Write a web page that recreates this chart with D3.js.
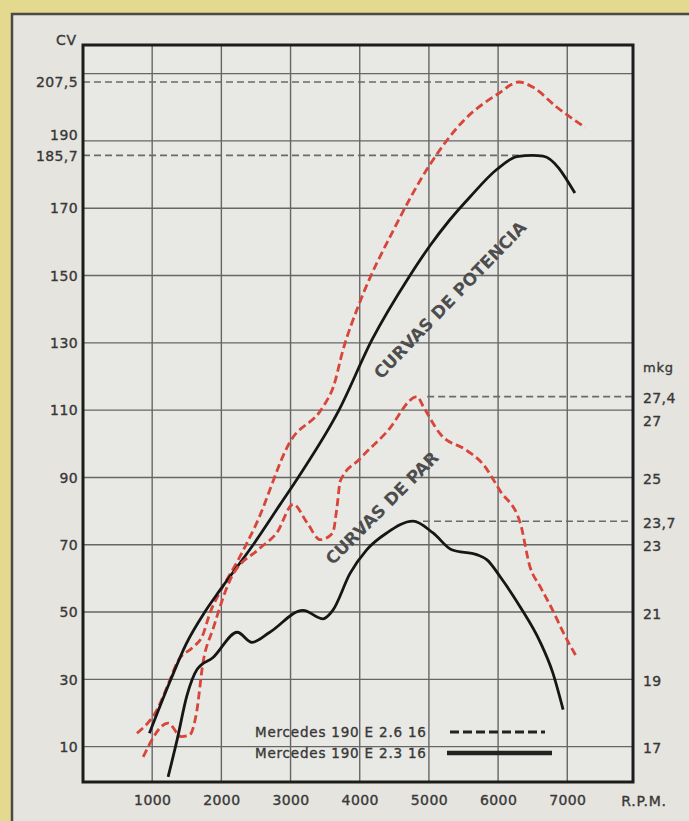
<!DOCTYPE html>
<html><head><meta charset="utf-8">
<script src="https://cdn.jsdelivr.net/npm/d3@7"></script>
<style>
html,body{margin:0;padding:0;background:#e3d98f;}
svg{display:block}
</style></head><body>
<svg id="c" width="689" height="821"></svg>
<script>
// ---------- DATA ----------
const rpmTicks = [1000, 2000, 3000, 4000, 5000, 6000, 7000];
const cvTicks = [10, 30, 50, 70, 90, 110, 130, 150, 170, 190];
const cvGrid = [10, 30, 50, 70, 90, 110, 130, 150, 170, 190, 210];
const cvRefValues = [207.5, 185.7];
const cvRefLabels = ["207,5", "185,7"];
const mkgTicks = [17, 19, 21, 23, 25, 27];
const mkgRefValues = [27.4, 23.7];
const mkgRefLabels = ["27,4", "23,7"];
const seriesNames = ["Mercedes 190 E 2.6 16", "Mercedes 190 E 2.3 16"];
const curveLabels = ["CURVAS DE POTENCIA", "CURVAS DE PAR"];

// Power (CV) - 2.6 16
const power26Rpm = [780, 1070, 1260, 1360, 1590, 1720, 1840, 1980, 2230, 2500, 2990, 3470, 3620, 3760, 4000, 4500, 5000, 5500, 6000, 6300, 6500, 6850, 7260];
const power26Cv  = [14, 21, 30, 35, 39.6, 42.6, 50, 56, 65, 76, 100.5, 111, 117, 128, 142, 164, 182.5, 196, 204, 207.5, 206, 200, 194];
// Power (CV) - 2.3 16
const power23Rpm = [960, 1260, 1490, 1760, 1980, 2460, 2850, 3110, 3700, 4180, 4710, 5020, 5300, 5600, 5980, 6270, 6500, 6650, 7110];
const power23Cv  = [14, 29.5, 40.5, 50, 56.5, 70, 82, 90, 110, 131, 149.5, 159, 166.5, 173.5, 181.5, 185.3, 185.7, 185.5, 174.5];
// Torque (mkg) - 2.6 16
const torque26Rpm = [870, 1230, 1420, 1540, 1640, 1735, 1880, 2125, 2560, 2800, 3040, 3240, 3430, 3610, 3670, 3720, 4000, 4390, 4830, 4920, 5160, 5550, 5780, 6030, 6320, 6460, 6610, 6790, 6940, 7140];
const torque26Mkg = [16.7, 17.7, 17.3, 17.35, 18.0, 19.5, 20.5, 21.95, 22.9, 23.35, 24.2, 23.65, 23.15, 23.35, 24.1, 24.9, 25.55, 26.35, 27.4, 27.1, 26.3, 25.8, 25.4, 24.6, 23.65, 22.35, 21.75, 21.05, 20.4, 19.65];
// Torque (mkg) - 2.3 16
const torque23Rpm = [1230, 1360, 1500, 1650, 1880, 2230, 2440, 2700, 3180, 3470, 3610, 3860, 4100, 4390, 4770, 5060, 5330, 5700, 5840, 6030, 6320, 6610, 6790, 6940];
const torque23Mkg = [16.1, 17.2, 18.5, 19.3, 19.65, 20.4, 20.1, 20.4, 21.05, 20.8, 21.05, 22.15, 22.85, 23.35, 23.7, 23.35, 22.85, 22.7, 22.55, 22.05, 21.15, 20.1, 19.2, 18.1];

// ---------- LAYOUT ----------
const L = {
  xDomain: [0, 7950], xRange: [83, 633],
  yDomain: [-0.5, 218.5], yRange: [782, 45],
  panel: {x: 12, y: 14},
  font: "'DejaVu Sans', sans-serif",
  ink: "#383838",
  red: "#d8453a",
  black: "#161616",
  grid: "#666",
  leftShift: {190: -6},
  rightShift: {27: 9},
  legendX: 255, legendY: [732, 753], legendLine: [[450, 545], [447, 552]],
  potencia: {x: 450, y: 300, a: -46},
  par: {x: 382, y: 508, a: -45}
};
const cvToMkg = v => (v + 160) / 10;

const svg = d3.select("#c");
const x = d3.scaleLinear().domain(L.xDomain).range(L.xRange);
const y = d3.scaleLinear().domain(L.yDomain).range(L.yRange);
const yR = d3.scaleLinear().domain(L.yDomain.map(cvToMkg)).range(L.yRange);

const X0 = x(L.xDomain[0]), X1 = x(L.xDomain[1]);
const Y0 = y(L.yDomain[0]), Y1 = y(L.yDomain[1]);

// panel
svg.append("rect").attr("x", L.panel.x).attr("y", L.panel.y)
  .attr("width", 700).attr("height", 830)
  .attr("fill", "#e5e4df").attr("stroke", "#4a4a48").attr("stroke-width", 2.5);

// plot bg
svg.append("rect").attr("x", X0).attr("y", Y1).attr("width", X1 - X0).attr("height", Y0 - Y1)
  .attr("fill", "#e8e8e4");

// grid
const g = svg.append("g");
g.selectAll("line.h").data(cvGrid).join("line")
  .attr("x1", X0).attr("x2", X1).attr("y1", d => y(d)).attr("y2", d => y(d))
  .attr("stroke", L.grid).attr("stroke-width", 1.4);
g.selectAll("line.v").data(rpmTicks).join("line")
  .attr("x1", d => x(d)).attr("x2", d => x(d)).attr("y1", Y1).attr("y2", Y0)
  .attr("stroke", L.grid).attr("stroke-width", 1.4);

// series
const series = [
  {rpm: power26Rpm, v: power26Cv, s: y, dashed: true},
  {rpm: power23Rpm, v: power23Cv, s: y, dashed: false},
  {rpm: torque26Rpm, v: torque26Mkg, s: yR, dashed: true},
  {rpm: torque23Rpm, v: torque23Mkg, s: yR, dashed: false}
];

// reference dashed lines
const refs = svg.append("g").attr("stroke", "#6a6a6a").attr("stroke-width", 1.6).attr("stroke-dasharray", "7,4");
[series[0], series[1]].forEach((s, i) => {
  const pk = s.rpm[d3.maxIndex(s.v)];
  refs.append("line").attr("x1", X0).attr("x2", x(pk) - 10)
    .attr("y1", y(cvRefValues[i])).attr("y2", y(cvRefValues[i]));
});
[series[2], series[3]].forEach((s, i) => {
  const pk = s.rpm[d3.maxIndex(s.v)];
  refs.append("line").attr("x1", x(pk) + 10).attr("x2", X1)
    .attr("y1", yR(mkgRefValues[i])).attr("y2", yR(mkgRefValues[i]));
});

// clip
svg.append("clipPath").attr("id", "plot").append("rect")
  .attr("x", X0).attr("y", Y1).attr("width", X1 - X0).attr("height", Y0 - Y1);

const curves = svg.append("g").attr("clip-path", "url(#plot)");
series.forEach(s => {
  const line = d3.line().x(d => x(d[0])).y(d => s.s(d[1])).curve(d3.curveMonotoneX);
  curves.append("path").attr("d", line(d3.zip(s.rpm, s.v)))
    .attr("fill", "none")
    .attr("stroke", s.dashed ? L.red : L.black)
    .attr("stroke-width", 2.8)
    .attr("stroke-dasharray", s.dashed ? "8,4" : null)
    .attr("stroke-linejoin", "round");
});

// frame
svg.append("rect").attr("x", X0).attr("y", Y1).attr("width", X1 - X0).attr("height", Y0 - Y1)
  .attr("fill", "none").attr("stroke", "#1c1c1c").attr("stroke-width", 3);

// axes
function styleAxis(sel) {
  sel.select(".domain").remove();
  sel.selectAll("text").attr("font-family", L.font).attr("font-size", 14)
    .attr("fill", L.ink).attr("stroke", L.ink).attr("stroke-width", 0.35)
    .attr("letter-spacing", 0.4);
}
const leftVals = cvTicks.concat(cvRefValues);
const leftFmt = d => { const i = cvRefValues.indexOf(d); return i >= 0 ? cvRefLabels[i] : String(d); };
const axL = svg.append("g").attr("transform", `translate(${X0},0)`)
  .call(d3.axisLeft(y).tickValues(leftVals).tickFormat(leftFmt).tickSize(0).tickPadding(5));
styleAxis(axL);
axL.selectAll(".tick text").attr("dy", d => (0.34 * 14 + (L.leftShift[d] || 0)) + "px");

const rightVals = mkgTicks.concat(mkgRefValues);
const rightFmt = d => { const i = mkgRefValues.indexOf(d); return i >= 0 ? mkgRefLabels[i] : String(d); };
const axR = svg.append("g").attr("transform", `translate(${X1},0)`)
  .call(d3.axisRight(yR).tickValues(rightVals).tickFormat(rightFmt).tickSize(0).tickPadding(10));
styleAxis(axR);
axR.selectAll(".tick text").attr("dy", d => (0.36 * 14 + 1 + (L.rightShift[d] || 0)) + "px");

const axB = svg.append("g").attr("transform", `translate(0,${Y0})`)
  .call(d3.axisBottom(x).tickValues(rpmTicks).tickFormat(d3.format("d")).tickSize(0).tickPadding(13));
styleAxis(axB);

// unit labels
function label(t, px, py, anchor, size) {
  svg.append("text").attr("x", px).attr("y", py).attr("text-anchor", anchor)
    .attr("font-family", L.font).attr("font-size", size || 14)
    .attr("fill", L.ink).attr("stroke", L.ink).attr("stroke-width", 0.35)
    .attr("letter-spacing", 0.8).text(t);
}
label("CV", X0 - 6, Y1, "end");
label("mkg", X1 + 10, yR(mkgRefValues[0]) - 25, "start", 13);
label("R.P.M.", X1 + 11, Y0 + 24, "middle");

// legend
seriesNames.forEach((n, i) => {
  label(n, L.legendX, L.legendY[i] + 5, "start", 13.5);
  svg.append("line").attr("x1", L.legendLine[i][0]).attr("x2", L.legendLine[i][1])
    .attr("y1", L.legendY[i]).attr("y2", L.legendY[i])
    .attr("stroke", "#222").attr("stroke-width", i === 0 ? 3 : 4.5)
    .attr("stroke-dasharray", i === 0 ? "9,4" : null);
});

// curve labels
[[curveLabels[0], L.potencia], [curveLabels[1], L.par]].forEach(([t, p]) => {
  svg.append("text").attr("transform", `translate(${p.x},${p.y}) rotate(${p.a})`)
    .attr("text-anchor", "middle").attr("dominant-baseline", "central")
    .attr("font-family", L.font).attr("font-size", 17).attr("font-weight", "bold")
    .attr("fill", "#4d4d4d").text(t);
});
</script>
</body></html>
